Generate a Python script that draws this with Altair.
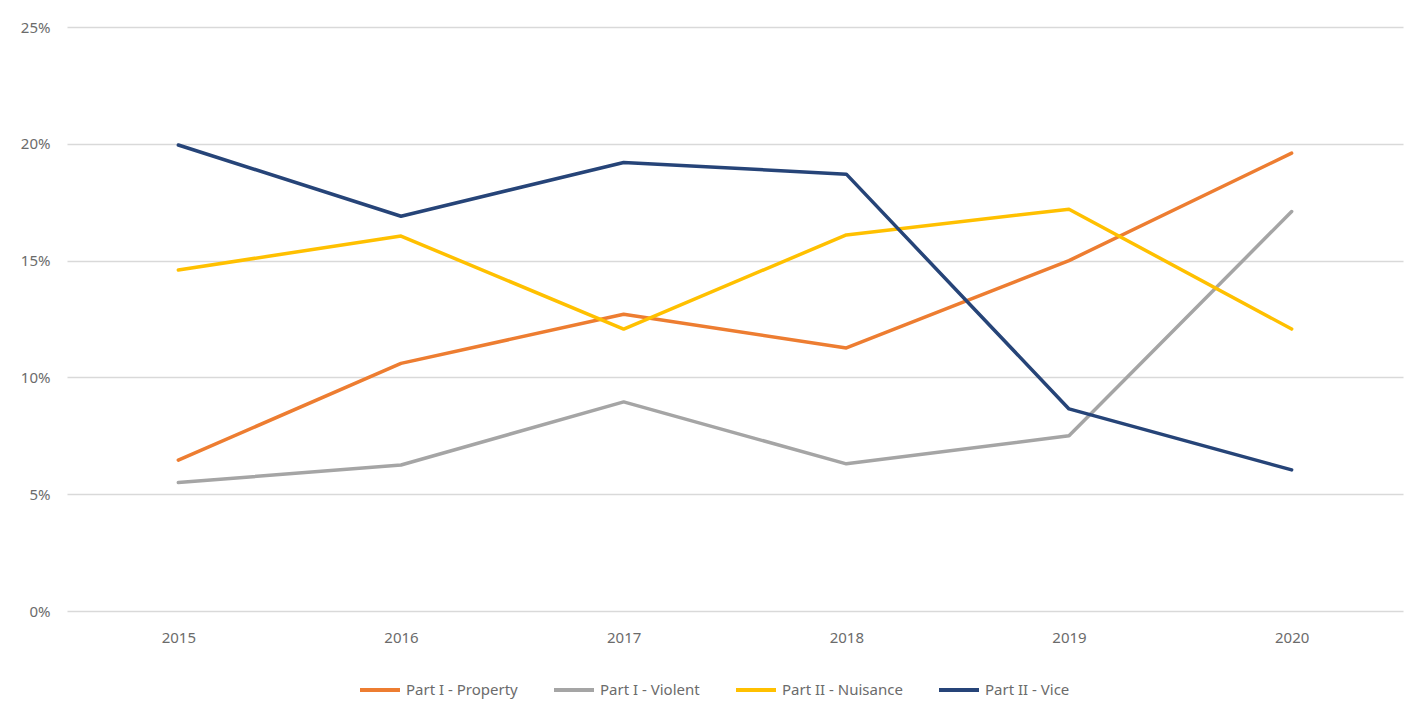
import altair as alt
import pandas as pd

years = ["2015", "2016", "2017", "2018", "2019", "2020"]
series_names = ["Part I - Property", "Part I - Violent", "Part II - Nuisance", "Part II - Vice"]
property_vals = [0.0646, 0.1060, 0.1270, 0.1126, 0.1500, 0.1960]
violent_vals = [0.0550, 0.0625, 0.0895, 0.0630, 0.0750, 0.1710]
nuisance_vals = [0.1460, 0.1605, 0.1207, 0.1610, 0.1720, 0.1207]
vice_vals = [0.1995, 0.1690, 0.1920, 0.1870, 0.0865, 0.0604]
colors = ["#ED7D31", "#A5A5A5", "#FFC000", "#264478"]

rows = []
for name, vals in zip(series_names, [property_vals, violent_vals, nuisance_vals, vice_vals]):
    for y, v in zip(years, vals):
        rows.append({"Year": y, "Series": name, "Value": v})
df = pd.DataFrame(rows)

FONT = "Noto Sans"

chart = alt.Chart(df).mark_line(strokeWidth=3.5, strokeCap="round", strokeJoin="round").encode(
    x=alt.X("Year:N", sort=years, title=None,
            scale=alt.Scale(type="point", padding=0.5),
            axis=alt.Axis(labelAngle=0, domain=False, ticks=False, grid=False,
                          labelPadding=19, labelColor="#6b6b6b", labelFontSize=15, labelFont=FONT)),
    y=alt.Y("Value:Q", title=None,
            scale=alt.Scale(domain=[0, 0.25], nice=False),
            axis=alt.Axis(format=".0%", values=[0, 0.05, 0.10, 0.15, 0.20, 0.25],
                          domain=False, ticks=False, labelPadding=17,
                          labelColor="#6b6b6b", labelFontSize=15, labelFont=FONT,
                          gridColor="#D9D9D9", gridWidth=1.5)),
    color=alt.Color("Series:N", sort=series_names,
                    scale=alt.Scale(domain=series_names, range=colors),
                    legend=alt.Legend(title=None, orient="none", direction="horizontal",
                                      legendX=291, legendY=641,
                                      symbolType="stroke", symbolSize=1600, symbolStrokeWidth=4,
                                      labelFont=FONT, labelFontSize=15, labelColor="#6b6b6b",
                                      labelOffset=4, columnPadding=28, symbolOffset=0)),
).properties(
    width=1336, height=584,
    padding={"left": 59, "top": 19, "right": 10, "bottom": 90},
    autosize=alt.AutoSizeParams(type="none"),
).configure(background="white").configure_view(stroke=None)

chart.save("out.html", embed_options={"renderer": "svg", "actions": False})
